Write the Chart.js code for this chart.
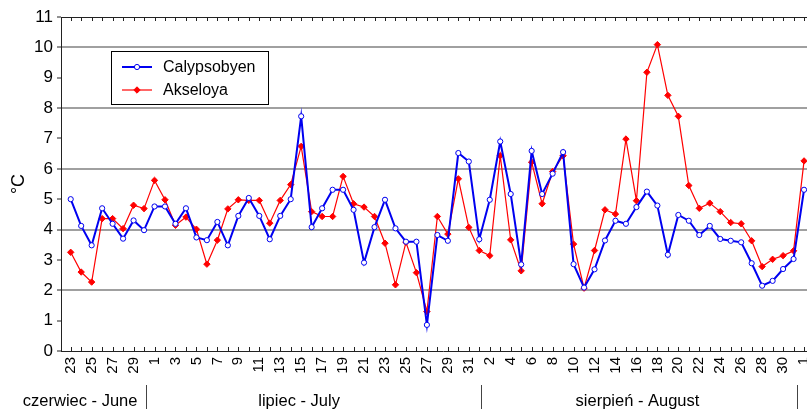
<!DOCTYPE html>
<html>
<head>
<meta charset="utf-8">
<script src="https://cdn.jsdelivr.net/npm/chart.js@4/dist/chart.umd.min.js"></script>
<style>
  html, body { margin: 0; padding: 0; background: #fff; overflow: hidden; }
  #wrap { width: 807px; height: 409px; overflow: hidden; }
</style>
</head>
<body>
<div id="wrap"><canvas id="chart" width="830" height="409"></canvas></div>
<script>
// 23 June - 1 September, one value per day
const dayLabels = [
  "23","24","25","26","27","28","29","30",
  "1","2","3","4","5","6","7","8","9","10","11","12","13","14","15","16",
  "17","18","19","20","21","22","23","24","25","26","27","28","29","30","31",
  "1","2","3","4","5","6","7","8","9","10","11","12","13","14","15","16",
  "17","18","19","20","21","22","23","24","25","26","27","28","29","30","31",
  "1"
];
const months = ["czerwiec - June", "lipiec - July", "sierpień - August"];

const calypsobyen = [
  5.00, 4.12, 3.48, 4.70, 4.19, 3.70, 4.30, 3.98, 4.76, 4.76,
  4.19, 4.70, 3.74, 3.65, 4.25, 3.48, 4.45, 5.04, 4.45, 3.68,
  4.45, 5.00, 7.73, 4.08, 4.70, 5.31, 5.31, 4.65, 2.91, 4.08,
  4.98, 4.04, 3.60, 3.60, 0.86, 3.82, 3.63, 6.52, 6.24, 3.68,
  4.98, 6.90, 5.17, 2.85, 6.59, 5.17, 5.84, 6.55, 2.86, 2.09,
  2.69, 3.64, 4.29, 4.19, 4.74, 5.25, 4.79, 3.17, 4.48, 4.29,
  3.82, 4.12, 3.69, 3.63, 3.58, 2.89, 2.15, 2.31, 2.70, 3.03,
  5.31
];
const akseloya = [
  3.25, 2.60, 2.27, 4.36, 4.36, 4.03, 4.80, 4.69, 5.62, 4.98,
  4.14, 4.41, 4.01, 2.86, 3.65, 4.68, 4.98, 4.96, 4.96, 4.21,
  4.96, 5.48, 6.74, 4.59, 4.43, 4.43, 5.75, 4.85, 4.74, 4.43,
  3.55, 2.18, 3.58, 2.58, 1.30, 4.43, 3.85, 5.67, 4.07, 3.31,
  3.14, 6.43, 3.66, 2.64, 6.22, 4.85, 5.91, 6.43, 3.52, 2.07,
  3.31, 4.65, 4.51, 6.98, 4.95, 9.18, 10.09, 8.42, 7.73, 5.45,
  4.70, 4.87, 4.59, 4.23, 4.19, 3.63, 2.78, 3.02, 3.14, 3.30,
  6.26
];

const family = "'Liberation Sans', Arial, sans-serif";
const toPoints = arr => arr.map((v, i) => ({ x: i, y: v }));

// frame, inner day ticks, month captions and the boxed legend
const extras = {
  id: "extras",
  beforeDatasetsDraw(chart) {
    const { ctx, chartArea: a, scales: { x } } = chart;
    ctx.save();
    ctx.strokeStyle = "#222";
    ctx.lineWidth = 1;
    ctx.beginPath();
    ctx.moveTo(a.left, a.top + 0.5);
    ctx.lineTo(a.right, a.top + 0.5);
    for (let i = 0; i <= 72; i++) {
      const px = Math.round(x.getPixelForValue(i)) + 0.5;
      ctx.moveTo(px, a.bottom);
      ctx.lineTo(px, a.bottom - 4);
      ctx.moveTo(px, a.top);
      ctx.lineTo(px, a.top + 4);
    }
    ctx.stroke();
    ctx.restore();
  },
  afterDraw(chart) {
    const { ctx, scales: { x } } = chart;
    ctx.save();

    // month captions under the day labels
    const centres = [0.9, 21.8, 54.1];
    const breaks = [7.2, 39.2, 69.3];
    ctx.fillStyle = "#000";
    ctx.font = "16.5px " + family;
    ctx.textAlign = "center";
    ctx.textBaseline = "alphabetic";
    months.forEach((m, i) => ctx.fillText(m, x.getPixelForValue(centres[i]), 406));
    ctx.strokeStyle = "#444";
    ctx.lineWidth = 1;
    ctx.beginPath();
    breaks.forEach(b => {
      const px = Math.round(x.getPixelForValue(b)) + 0.5;
      ctx.moveTo(px, 385);
      ctx.lineTo(px, 409);
    });
    ctx.stroke();

    // legend
    ctx.fillStyle = "#fff";
    ctx.fillRect(111, 51, 157, 53);
    ctx.strokeStyle = "#000";
    ctx.strokeRect(111.5, 51.5, 157, 53);
    ctx.font = "16px " + family;
    ctx.textAlign = "left";
    ctx.textBaseline = "middle";
    chart.data.datasets.forEach((ds, i) => {
      const y = 67 + i * 23;
      ctx.strokeStyle = ds.borderColor;
      ctx.lineWidth = ds.borderWidth;
      ctx.beginPath();
      ctx.moveTo(122, y);
      ctx.lineTo(152, y);
      ctx.stroke();
      ctx.fillStyle = ds.pointBackgroundColor;
      ctx.lineWidth = ds.pointBorderWidth;
      ctx.beginPath();
      const r = ds.pointRadius;
      if (ds.pointStyle === "circle") {
        ctx.arc(137, y, r, 0, Math.PI * 2);
      } else {
        ctx.moveTo(137, y - r); ctx.lineTo(137 + r, y);
        ctx.lineTo(137, y + r); ctx.lineTo(137 - r, y);
        ctx.closePath();
      }
      ctx.fill();
      ctx.stroke();
      ctx.fillStyle = "#000";
      ctx.fillText(ds.label, 163, y + 1);
    });
    ctx.restore();
  }
};

new Chart(document.getElementById("chart"), {
  type: "line",
  data: {
    datasets: [
      {
        label: "Calypsobyen",
        data: toPoints(calypsobyen),
        borderColor: "#0000f0",
        borderWidth: 2,
        pointStyle: "circle",
        pointRadius: 2.6,
        pointBorderWidth: 1,
        pointBackgroundColor: "#fff",
        pointBorderColor: "#0000f0",
        tension: 0
      },
      {
        label: "Akseloya",
        data: toPoints(akseloya),
        borderColor: "#ff0000",
        borderWidth: 1.2,
        pointStyle: "rectRot",
        pointRadius: 3.2,
        pointBorderWidth: 1,
        pointBackgroundColor: "#ff0000",
        pointBorderColor: "#ff0000",
        tension: 0
      }
    ]
  },
  options: {
    responsive: false,
    animation: false,
    devicePixelRatio: 1,
    layout: { padding: { top: 17, right: 5, left: 0, bottom: 0 } },
    plugins: { legend: { display: false }, tooltip: { enabled: false } },
    scales: {
      x: {
        type: "linear",
        min: -0.926,
        max: 72,
        afterFit(s) { s.height = 58; s.paddingLeft = 0; s.paddingRight = 0; },
        border: { display: true, color: "#222", width: 1 },
        grid: { display: false, drawTicks: false },
        ticks: {
          stepSize: 2,
          includeBounds: false,
          autoSkip: false,
          minRotation: 90,
          maxRotation: 90,
          padding: 6,
          color: "#000",
          font: { size: 15, family },
          callback: v => dayLabels[v] ?? ""
        }
      },
      y: {
        min: 0,
        max: 11,
        afterFit(s) { s.width = 61; },
        border: { color: "#222", width: 1 },
        grid: {
          color: c => (c.tick && c.tick.value % 2 === 0 && c.tick.value > 0 && c.tick.value < 11) ? "#a0a0a0" : "rgba(0,0,0,0)",
          lineWidth: 2,
          tickColor: "#222",
          tickWidth: 1,
          tickLength: 4
        },
        ticks: { stepSize: 1, padding: 4, color: "#000", font: { size: 17, family } },
        title: {
          display: true, text: "°C", color: "#000",
          font: { size: 18, family }, padding: { top: 8, bottom: 0 }
        }
      }
    }
  },
  plugins: [extras]
});
</script>
</body>
</html>
